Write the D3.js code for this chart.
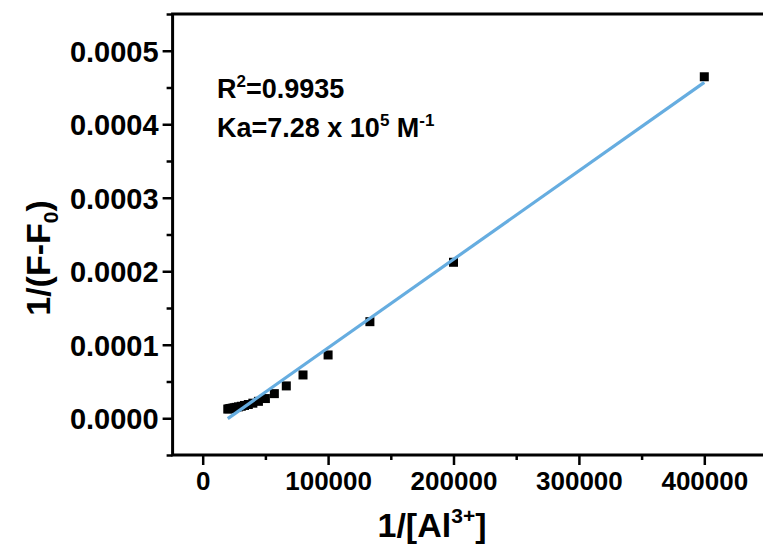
<!DOCTYPE html>
<html>
<head>
<meta charset="utf-8">
<script src="https://cdn.jsdelivr.net/npm/d3@7"></script>
<style>
  html, body { margin: 0; padding: 0; background: #fff; }
  svg { display: block; }
  text { font-family: "Liberation Sans", Arial, sans-serif; font-weight: bold; fill: #000; }
</style>
</head>
<body>
<svg id="chart" width="763" height="554"></svg>
<script>
// 1/[Al3+] (M^-1) for each titration step
const invAl = [400000, 200000, 133333, 100000, 80000, 66667, 57143, 50000, 44444, 40000,
               36364, 33333, 30769, 28571, 26667, 25000, 23529, 22222, 21053, 20000];
// 1/(F-F0) measured at each step
const invDF = [0.0004646, 0.0002122, 0.0001314, 0.0000861, 0.0000589, 0.0000440, 0.0000335,
               0.0000268, 0.0000230, 0.0000205, 0.0000187, 0.0000174, 0.0000163, 0.0000155,
               0.0000148, 0.0000142, 0.0000137, 0.0000133, 0.0000129, 0.0000125];
// Benesi-Hildebrand linear fit
const fitSlope = 1.204e-9;
const fitIntercept = -2.46e-5;
const xTicks = [0, 100000, 200000, 300000, 400000];
const xMinor = [50000, 150000, 250000, 350000];
const yTicks = [0, 0.0001, 0.0002, 0.0003, 0.0004, 0.0005];
const yMinor = [-0.00005, 0.00005, 0.00015, 0.00025, 0.00035, 0.00045, 0.00055];

const svg = d3.select("#chart");
const x = d3.scaleLinear().domain([-24000, 450000]).range([172.6, 767.0]);
const y = d3.scaleLinear().domain([-0.00005, 0.00055]).range([455, 14]);

const fmtY = d3.format(".4f");

// minor ticks
const xMinorAxis = d3.axisBottom(x).tickValues(xMinor).tickSize(5).tickFormat("");
const yMinorAxis = d3.axisLeft(y).tickValues(yMinor).tickSize(6).tickFormat("");
svg.append("g").attr("transform", `translate(0,${y(-0.00005)})`).call(xMinorAxis);
svg.append("g").attr("transform", `translate(${x(-24000)},0)`).call(yMinorAxis);

// major axes
const gx = svg.append("g").attr("transform", `translate(0,${y(-0.00005)})`)
  .call(d3.axisBottom(x).tickValues(xTicks).tickSize(10).tickPadding(7).tickFormat(d3.format("d")));
const gy = svg.append("g").attr("transform", `translate(${x(-24000)},0)`)
  .call(d3.axisLeft(y).tickValues(yTicks).tickSize(10).tickPadding(4).tickFormat(fmtY));

svg.selectAll(".domain").remove();
svg.selectAll(".tick line").attr("stroke", "#000").attr("stroke-width", 2.5);
gx.selectAll(".tick text").attr("font-size", 26).attr("dy", "0.71em");
gy.selectAll(".tick text").attr("font-size", 29).attr("dy", "0.36em");

// frame
const x0 = x(-24000), x1 = x(450000), yb = y(-0.00005), yt = y(0.00055);
svg.append("path")
  .attr("d", `M${x1},${yt}H${x0}V${yb}H${x1}`)
  .attr("fill", "none").attr("stroke", "#000").attr("stroke-width", 3);

// data points
svg.append("g").selectAll("rect").data(invAl.map((v, i) => [v, invDF[i]]))
  .join("rect")
  .attr("x", d => x(d[0]) - 4.5).attr("y", d => y(d[1]) - 4.5)
  .attr("width", 9).attr("height", 9).attr("fill", "#000");

// fitted line
const xr = d3.extent(invAl);
const line = d3.line().x(d => x(d)).y(d => y(fitIntercept + fitSlope * d));
svg.append("path").datum(xr).attr("d", line)
  .attr("fill", "none").attr("stroke", "#66ade0").attr("stroke-width", 3.2);

// annotations
const ann = svg.append("g").attr("font-size", 27);
const t1 = ann.append("text").attr("x", 217).attr("y", 98);
t1.append("tspan").text("R");
t1.append("tspan").attr("font-size", 17).attr("dy", -11).text("2");
t1.append("tspan").attr("dy", 11).text("=0.9935");
const t2 = ann.append("text").attr("x", 217).attr("y", 137);
t2.append("tspan").text("Ka=7.28 x 10");
t2.append("tspan").attr("font-size", 17).attr("dy", -11).text("5");
t2.append("tspan").attr("dy", 11).text(" M");
t2.append("tspan").attr("font-size", 17).attr("dy", -11).text("-1");

// axis titles
const xt = svg.append("text").attr("x", 432).attr("y", 537).attr("text-anchor", "middle").attr("font-size", 34);
xt.append("tspan").text("1/[Al");
xt.append("tspan").attr("font-size", 21).attr("dy", -14).text("3+");
xt.append("tspan").attr("dy", 14).text("]");

const yt2 = svg.append("text").attr("transform", "translate(50,258) rotate(-90)")
  .attr("text-anchor", "middle").attr("font-size", 34);
yt2.append("tspan").text("1/(F-F");
yt2.append("tspan").attr("font-size", 21).attr("dy", 8).text("0");
yt2.append("tspan").attr("dy", -8).text(")");
</script>
</body>
</html>
